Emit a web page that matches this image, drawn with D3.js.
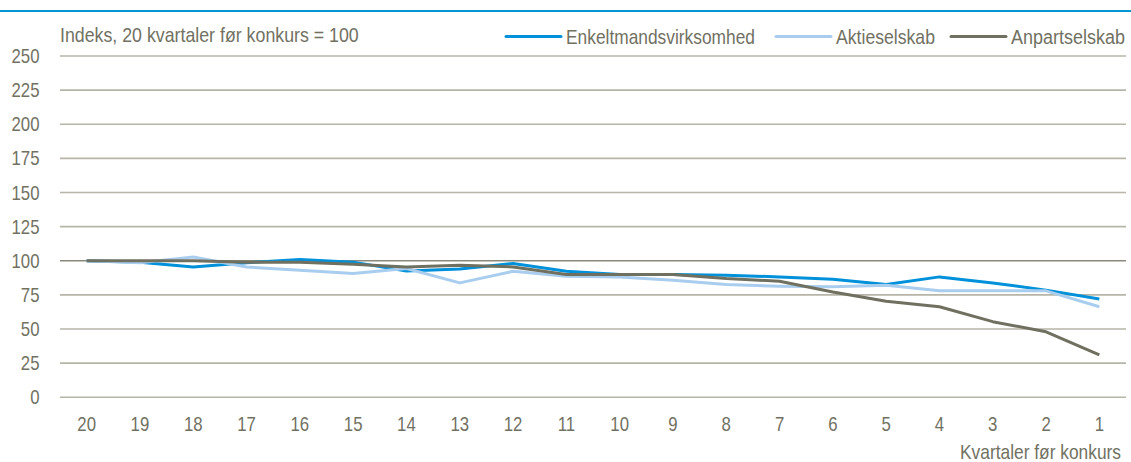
<!DOCTYPE html>
<html>
  <head>
    <meta charset="utf-8">
    <title>Indeks, 20 kvartaler før konkurs</title>
    <script src="https://d3js.org/d3.v7.min.js"></script>
    <style>
      body { margin: 0; background: #fff; }
      text {
        font-family: "Liberation Sans", Arial, sans-serif;
        font-size: 20px;
        fill: #717162;
      }
    </style>
  </head>
  <body>
    <div id="chart"></div>
    <script>
      // kvartaler før konkurs
      var quarters = ["20", "19", "18", "17", "16", "15", "14", "13", "12", "11",
                      "10", "9", "8", "7", "6", "5", "4", "3", "2", "1"];
      var yTicks = [0, 25, 50, 75, 100, 125, 150, 175, 200, 225, 250];

      var enkeltmand = [100, 99, 95.5, 98.5, 101, 99, 92.5, 94, 98, 92.3,
                        90, 90, 89.4, 88.2, 86.5, 82.6, 88.2, 83.8, 78.5, 72];
      var aktieselskab = [100, 98.5, 102.8, 95.5, 93, 90.6, 94.3, 83.8, 92.3, 88.7,
                          88.2, 85.8, 82.6, 81.4, 80.9, 82, 78, 78, 78, 66.3];
      var anpartselskab = [100, 100, 100, 99, 99, 97.4, 95.5, 96.7, 95.5, 89.9,
                           89.9, 89.9, 87, 85, 77.2, 70.4, 66.3, 55.4, 48, 31];

      var seriesNames = ["Enkeltmandsvirksomhed", "Aktieselskab", "Anpartselskab"];
      var seriesValues = [enkeltmand, aktieselskab, anpartselskab];
      var colors = ["#0091da", "#a9cdee", "#707060"];

      var width = 1131,
        height = 462;

      var svg = d3.select("#chart").append("svg")
        .attr("width", width)
        .attr("height", height);

      var x = d3.scalePoint()
        .domain(quarters)
        .range([60, 1126])
        .padding(0.5);

      var y = d3.scaleLinear()
        .domain([0, 250])
        .range([397.3, 56]);

      // condensed look: squeeze the text horizontally
      var squeeze = 0.84;
      function place(sel, px, py) {
        sel.attr("transform", function (d, i) {
          var tx = typeof px === "function" ? px(d, i) : px;
          var ty = typeof py === "function" ? py(d, i) : py;
          return "translate(" + tx + "," + ty + ") scale(" + squeeze + ",1)";
        });
      }
      // squeeze a text so that it spans a given width
      function fit(sel, px, py, w) {
        sel.each(function (d, i) {
          var t = d3.select(this);
          var ww = typeof w === "function" ? w(d, i) : w;
          var k = ww / this.getComputedTextLength();
          var tx = typeof px === "function" ? px(d, i) : px;
          t.attr("transform", "translate(" + tx + "," + py + ") scale(" + k + ",1)");
        });
      }

      // blue rule at the top
      svg.append("rect")
        .attr("x", 0).attr("y", 10)
        .attr("width", width).attr("height", 2)
        .attr("fill", "#0096d6");

      // gridlines
      svg.append("g")
        .selectAll("line")
        .data(yTicks)
        .enter()
        .append("line")
        .attr("x1", 60)
        .attr("x2", 1126)
        .attr("y1", function (d) { return y(d); })
        .attr("y2", function (d) { return y(d); })
        .attr("stroke", function (d) { return d === 100 ? "#8a897b" : "#b6b5a7"; })
        .attr("stroke-width", 1.6);

      // y tick labels
      svg.append("g")
        .selectAll("text")
        .data(yTicks)
        .enter()
        .append("text")
        .attr("dy", "0.35em")
        .attr("text-anchor", "end")
        .text(function (d) { return d; })
        .call(place, 39.5, function (d) { return y(d); });

      // x tick labels
      svg.append("g")
        .selectAll("text")
        .data(quarters)
        .enter()
        .append("text")
        .attr("dy", "0.35em")
        .attr("text-anchor", "middle")
        .text(function (d) { return d; })
        .call(place, function (d) { return x(d); }, 424);

      svg.append("text")
        .attr("dy", "0.35em")
        .attr("text-anchor", "end")
        .text("Kvartaler før konkurs")
        .call(fit, 1121, 452, 161);

      svg.append("text")
        .attr("dy", "0.35em")
        .text("Indeks, 20 kvartaler før konkurs = 100")
        .call(fit, 60, 34.5, 299);

      // lines
      var line = d3.line()
        .x(function (d, i) { return x(quarters[i]); })
        .y(function (d) { return y(d); });

      svg.append("g")
        .selectAll("path")
        .data(seriesValues)
        .enter()
        .append("path")
        .attr("d", line)
        .attr("fill", "none")
        .attr("stroke", function (d, i) { return colors[i]; })
        .attr("stroke-width", 3)
        .attr("stroke-linejoin", "round");

      // legend
      var legendX = [506, 776, 951];
      var legendW = [189, 99, 114];
      var legend = svg.append("g")
        .selectAll("g")
        .data(seriesNames)
        .enter()
        .append("g")
        .attr("transform", function (d, i) { return "translate(" + legendX[i] + ",36.5)"; });

      legend.append("line")
        .attr("x1", 0).attr("x2", 55)
        .attr("stroke", function (d, i) { return colors[i]; })
        .attr("stroke-width", 3)
        .attr("stroke-linecap", "round");

      legend.append("text")
        .attr("dy", "0.35em")
        .text(function (d) { return d; })
        .call(fit, 60, 0, function (d, i) { return legendW[i]; });
    </script>
  </body>
</html>
